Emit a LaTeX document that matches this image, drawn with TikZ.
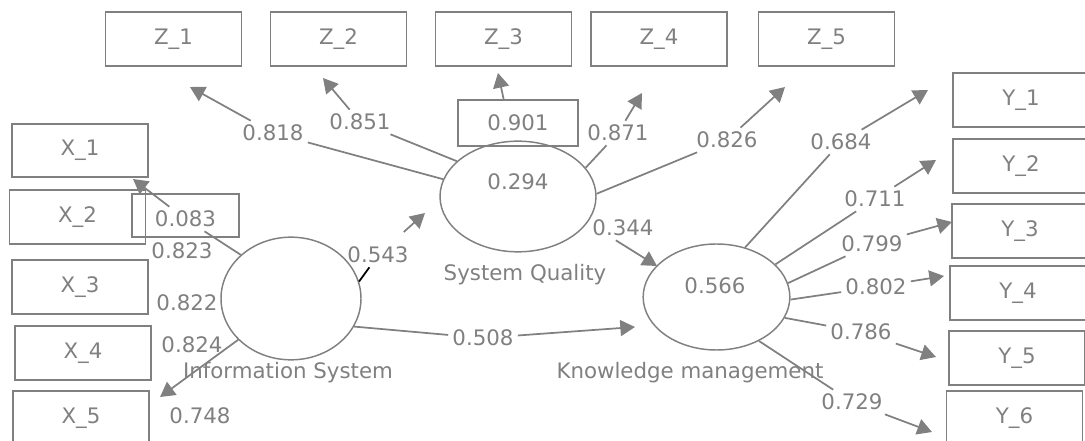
\documentclass[tikz,border=0pt]{standalone}
\usepackage{fontspec}
\setmainfont{DejaVu Sans}
\usepackage{tikz}
\usetikzlibrary{shapes.geometric, arrows.meta}
\usepackage{xcolor}
\definecolor{plsgray}{RGB}{128,128,128}
\tikzstyle{indicator} = [rectangle, minimum width=102pt, minimum height=40pt, text centered, draw=plsgray, line width=1.4pt, text=plsgray]
\tikzstyle{valuebox} = [rectangle, draw=plsgray, line width=1.4pt, text=plsgray]
\tikzstyle{latent} = [ellipse, inner sep=0pt, draw=plsgray, line width=1.1pt]
\tikzstyle{coef} = [text=plsgray, inner sep=3pt]
\tikzstyle{line} = [draw=plsgray, line width=1.3pt]
\tikzstyle{arrow} = [line, -{Triangle[length=11pt,width=12pt]}]
\tikzstyle{tick} = [draw=black, line width=1.3pt]

\begin{document}
\begin{tikzpicture}[x=0.75pt, y=-0.75pt, font=\fontsize{16}{19}\selectfont]
\useasboundingbox (0,0) rectangle (1085,441);

\node (z1) [indicator] at (173.5,39) {Z\_1};
\node (z2) [indicator] at (338.5,39) {Z\_2};
\node (z3) [indicator] at (503.5,39) {Z\_3};
\node (z4) [indicator] at (659,39) {Z\_4};
\node (z5) [indicator] at (826.5,39) {Z\_5};
\node (x1) [indicator] at (80,150.5) {X\_1};
\node (x2) [indicator] at (77.5,217) {X\_2};
\node (x3) [indicator] at (80,287) {X\_3};
\node (x4) [indicator] at (83,353) {X\_4};
\node (x5) [indicator] at (81,418) {X\_5};
\node (y1) [indicator] at (1021,100) {Y\_1};
\node (y2) [indicator] at (1021,166) {Y\_2};
\node (y3) [indicator] at (1020,231) {Y\_3};
\node (y4) [indicator] at (1018,293) {Y\_4};
\node (y5) [indicator] at (1017,358) {Y\_5};
\node (y6) [indicator] at (1014.5,418) {Y\_6};

\node (is) [latent, minimum width=105pt, minimum height=92pt] at (291,298.5) {};
\node (sq) [latent, minimum width=117pt, minimum height=83pt] at (518,196.5) {};
\node (km) [latent, minimum width=110pt, minimum height=79.5pt] at (716.5,297) {};
\node (sqr2) [coef] at (518,182) {0.294};
\node (kmr2) [coef] at (715,286) {0.566};
\node (isname) [coef] at (288,373) {Information System};
\node (sqname) [coef] at (525,275) {System Quality};
\node (kmname) [coef] at (690,373) {Knowledge management};

\node (b083) [valuebox, minimum width=80pt, minimum height=32pt] at (185.5,215.5) {};
\node (b901) [valuebox, minimum width=90pt, minimum height=34.5pt] at (518,123) {0.901};

\node (l818) [coef] at (273,133) {0.818};
\node (l851) [coef] at (360,122) {0.851};
\node (l871) [coef] at (618,133) {0.871};
\node (l826) [coef] at (727,140) {0.826};
\node (l684) [coef] at (841,142) {0.684};
\node (l711) [coef] at (875,199) {0.711};
\node (l799) [coef] at (872,244) {0.799};
\node (l802) [coef] at (876,287) {0.802};
\node (l786) [coef] at (861,332) {0.786};
\node (l729) [coef] at (852,402) {0.729};
\node (l344) [coef] at (623,228) {0.344};
\node (l508) [coef] at (483,338) {0.508};
\node (l543) [coef] at (378,255) {0.543};
\node (l083) [coef] at (185.5,219) {0.083};
\node (l823) [coef] at (182,251) {0.823};
\node (l822) [coef] at (187,303) {0.822};
\node (l824) [coef] at (192,345) {0.824};
\node (l748) [coef] at (200,416) {0.748};

\coordinate (z1h) at (190,87);
\coordinate (z2h) at (323,78);
\coordinate (z3h) at (498,73);
\coordinate (z4h) at (642,93);
\coordinate (z5h) at (785,87);
\coordinate (y1h) at (928,90);
\coordinate (y2h) at (936,160);
\coordinate (y3h) at (952,222);
\coordinate (y4h) at (944,276);
\coordinate (y5h) at (936,357);
\coordinate (y6h) at (932,432);
\coordinate (x1h) at (133,179);
\coordinate (x5h) at (160,397);
\coordinate (sqh) at (425,213);
\coordinate (kmh) at (635,327);
\coordinate (kmh2) at (657,266);

\draw [line] (sq.167) -- (l818);
\draw [arrow] (l818) -- (z1h);
\draw [line] (sq.150) -- (l851);
\draw [arrow] (l851) -- (z2h);
\draw [arrow] (b901.121) -- (z3h);
\draw [line] (sq.23) -- (l871);
\draw [arrow] (l871) -- (z4h);
\draw [line] (sq.2) -- (l826);
\draw [arrow] (l826) -- (z5h);
\draw [arrow] (l344.240) -- (kmh2);
\draw [tick] (is.14) -- (l543.235);
\draw [arrow, shorten <=12pt] (l543) -- (sqh);
\draw [line] (is.-24) -- (l508);
\draw [arrow] (l508) -- (kmh);
\draw [line] (is.139) -- (l083);
\draw [arrow] (l083) -- (x1h);
\draw [arrow] (is.218) -- (x5h);
\draw [line] (km.60) -- (l684);
\draw [arrow] (l684) -- (y1h);
\draw [line] (km.29) -- (l711);
\draw [arrow] (l711) -- (y2h);
\draw [line] (km.11) -- (l799);
\draw [arrow] (l799) -- (y3h);
\draw [line] (km.-2) -- (l802);
\draw [arrow] (l802) -- (y4h);
\draw [line] (km.-17) -- (l786);
\draw [arrow] (l786) -- (y5h);
\draw [line] (km.-46) -- (l729);
\draw [arrow] (l729) -- (y6h);

\end{tikzpicture}
\end{document}
